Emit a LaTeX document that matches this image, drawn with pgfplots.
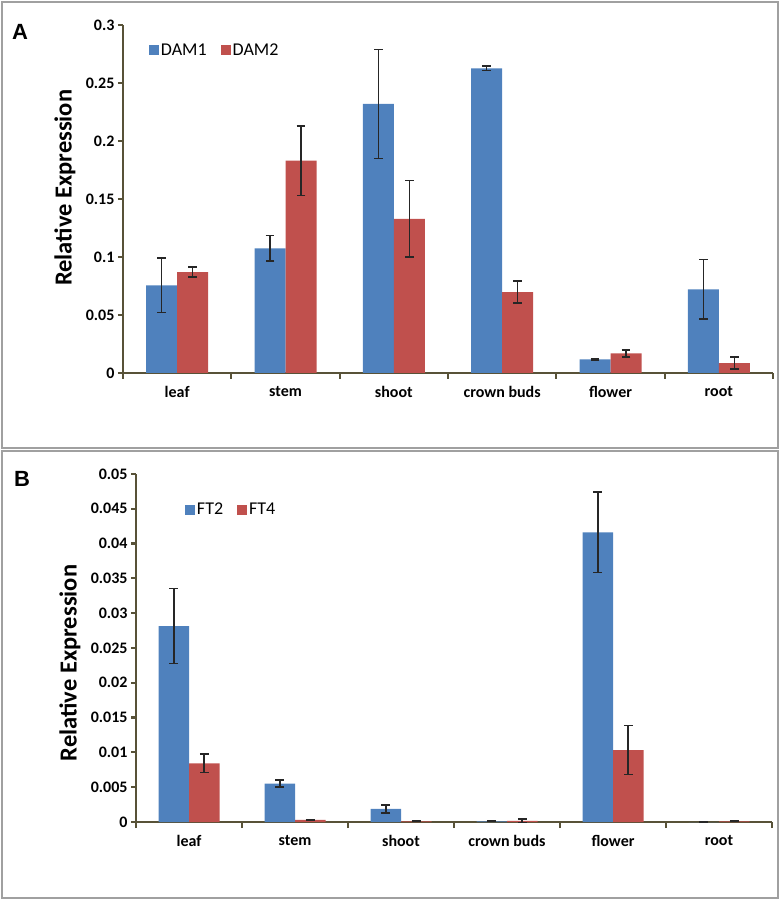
\documentclass[border=0pt]{standalone}
\usepackage{pgfplots}
\pgfplotsset{compat=1.18}
\usepackage{pgfplotstable}
\usepackage{fontspec}
\setmainfont{Carlito}
\newfontfamily\arialf{Liberation Sans}
\definecolor{barblue}{HTML}{4F81BD}
\definecolor{barred}{HTML}{C0504D}
\definecolor{axol}{RGB}{88,82,56}
\definecolor{frameg}{RGB}{160,160,160}

\pgfplotstableread{
x y e
0 0.0756 0.0235
1 0.1075 0.0110
2 0.2320 0.0470
3 0.2627 0.0020
4 0.0118 0.0005
5 0.0721 0.0258
}\damone
\pgfplotstableread{
x y e
0 0.0870 0.0042
1 0.1830 0.0300
2 0.1328 0.0330
3 0.0698 0.0095
4 0.0170 0.0030
5 0.0086 0.0050
}\damtwo
\pgfplotstableread{
x y e
0 0.02816 0.00540
1 0.00550 0.00050
2 0.00187 0.00058
3 0.00010 0.00004
4 0.04162 0.00580
5 0.00000 0.00000
}\fttwo
\pgfplotstableread{
x y e
0 0.00843 0.00130
1 0.00030 0.00008
2 0.00010 0.00003
3 0.00015 0.00030
4 0.01034 0.00350
5 0.00010 0.00005
}\ftfour

\pgfplotsset{
  panel/.style={
    scale only axis,
    anchor=south west,
    ybar=0pt,
    bar width=31pt,
    xmin=-0.5, xmax=5.5,
    ymin=0,
    enlargelimits=false,
    axis x line*=bottom,
    axis y line*=left,
    axis line style={axol, line width=2.5pt, -},
    xtick={0,1,2,3,4,5},
    xticklabels={leaf,stem,shoot,crown buds,flower,root},
    minor xtick={-0.5,0.5,1.5,2.5,3.5,4.5,5.5},
    major x tick style={draw=none},
    minor x tick style={axol, line width=2.2pt},
    y tick style={axol, line width=2.2pt},
    tick align=outside,
    major tick length=5pt,
    minor tick length=6pt,
    scaled y ticks=false,
    /pgf/number format/assume math mode=true,
    ticklabel style={font=\bfseries\fontsize{16}{18}\selectfont, text=black},
    xticklabel style={yshift=-5pt},
    ylabel={Relative Expression},
    ylabel style={font=\bfseries\fontsize{24.5}{27}\selectfont, anchor=center, rotate=0},
    legend style={draw=none, fill=none, font=\fontsize{18}{20}\selectfont,
      legend columns=2, anchor=west,
      /tikz/every even column/.append style={column sep=12pt}},
    legend image code/.code={\fill[##1] (0pt,-5pt) rectangle (10pt,5pt);},
  },
  errs/.style={
    error bars/y dir=both,
    error bars/y explicit,
    error bars/error bar style={line width=1.6pt, black!85},
    error bars/error mark options={rotate=90, mark size=4.3pt, line width=1.6pt, black!85},
  },
}

\begin{document}
\begin{tikzpicture}
\draw[frameg, line width=1.4pt] (2pt,454pt) rectangle (778pt,900pt);
\draw[frameg, line width=1.4pt] (2pt,4pt) rectangle (778pt,451pt);
\node[font=\arialf\bfseries\fontsize{22}{24}\selectfont] at (20pt,870pt) {A};
\node[font=\arialf\bfseries\fontsize{22}{24}\selectfont] at (22pt,423pt) {B};

\begin{axis}[panel, at={(123pt,529pt)}, width=650pt, height=348pt,
  ymax=0.3,
  ytick={0,0.05,0.1,0.15,0.2,0.25,0.3},
  yticklabels={0,0.05,0.1,0.15,0.2,0.25,0.3},
  ylabel style={at={(axis description cs:-0.0892,0.532)}},
  legend style={at={(axis description cs:0.035,0.927)}}]
\addplot[fill=barblue, draw=none, errs] table[x=x, y=y, y error=e] {\damone};
\addplot[fill=barred, draw=none, errs] table[x=x, y=y, y error=e] {\damtwo};
\legend{DAM1,DAM2}
\end{axis}

\begin{axis}[panel, at={(136pt,80pt)}, width=636pt, height=348pt,
  ymax=0.05,
  ytick={0,0.005,0.01,0.015,0.02,0.025,0.03,0.035,0.04,0.045,0.05},
  yticklabels={0,0.005,0.01,0.015,0.02,0.025,0.03,0.035,0.04,0.045,0.05},
  bar width=30.5pt,
  ylabel style={at={(axis description cs:-0.1038,0.457)}},
  legend style={at={(axis description cs:0.072,0.897)}}]
\addplot[fill=barblue, draw=none, errs] table[x=x, y=y, y error=e] {\fttwo};
\addplot[fill=barred, draw=none, errs] table[x=x, y=y, y error=e] {\ftfour};
\legend{FT2,FT4}
\end{axis}
\path (0pt,0pt) rectangle (780pt,902pt);
\end{tikzpicture}
\end{document}
